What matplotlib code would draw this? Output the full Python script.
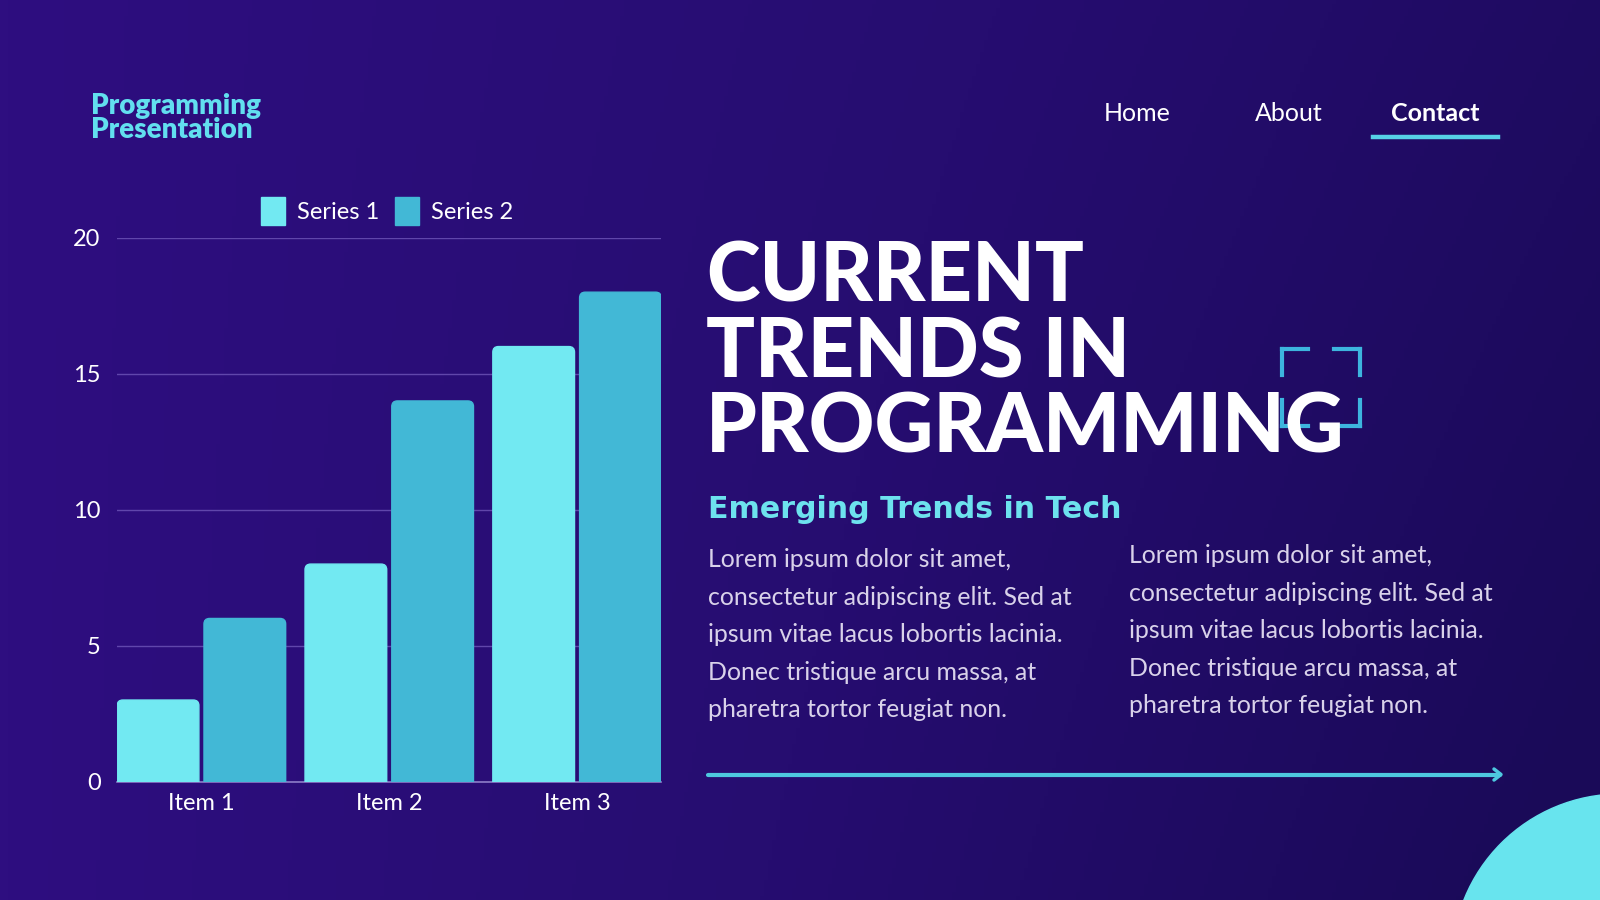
import numpy as np
import matplotlib
matplotlib.use("Agg")
from matplotlib import pyplot as plt
from matplotlib.patches import FancyBboxPatch, Circle, Patch
from matplotlib.colors import LinearSegmentedColormap

# chart data
categories = ["Item 1", "Item 2", "Item 3"]
series_names = ["Series 1", "Series 2"]
series1 = [3, 8, 16]
series2 = [6, 14, 18]
y_ticks = [0, 5, 10, 15, 20]

# slide text
brand_lines = ["Programming", "Presentation"]
nav_items = ["Home", "About", "Contact"]
title_lines = ["CURRENT", "TRENDS IN", "PROGRAMMING"]
subtitle = "Emerging Trends in Tech"
body_lines = ["Lorem ipsum dolor sit amet,",
              "consectetur adipiscing elit. Sed at",
              "ipsum vitae lacus lobortis lacinia.",
              "Donec tristique arcu massa, at",
              "pharetra tortor feugiat non."]

W, H = 1600, 900
fig = plt.figure(figsize=(16, 9), dpi=100)


def fx(px):
    return px / W


def fy(py):
    return 1 - py / H


# background gradient
bg = fig.add_axes([0, 0, 1, 1])
bg.set_axis_off()
cmap = LinearSegmentedColormap.from_list("bg", ["#2E0E80", "#260D70", "#1A0A58"])
gx = np.linspace(0, 1, 400)
gy = np.linspace(0, 1, 225)
gxx, gyy = np.meshgrid(gx, gy)
grad = 0.8 * gxx + 0.25 * gyy * gxx
bg.imshow(grad, cmap=cmap, aspect="auto", extent=[0, W, H, 0], vmin=0, vmax=1)
bg.set_xlim(0, W)
bg.set_ylim(H, 0)

# decorative circle bottom-right
bg.add_patch(Circle((1620, 962), 168, color="#68E4EE", zorder=3))

# bracket decoration
br_col = "#3DB5DE"
for (x1, x2, y1, y2) in [(1282, 1308, 349, 349), (1282, 1282, 349, 375),
                         (1334, 1360, 349, 349), (1360, 1360, 349, 375),
                         (1282, 1282, 400, 426), (1282, 1308, 426, 426),
                         (1360, 1360, 400, 426), (1334, 1360, 426, 426)]:
    bg.plot([x1, x2], [y1, y2], color=br_col, lw=3, solid_capstyle="projecting", zorder=2)

# arrow line
bg.plot([708, 1500], [774.5, 774.5], color="#4EC8DF", lw=3, zorder=2,
        solid_capstyle="round")
bg.plot([1494, 1501, 1494], [769, 774.5, 780], color="#4EC8DF", lw=2.5, zorder=2,
        solid_capstyle="round")

# Contact underline
bg.plot([1373, 1498], [137, 137], color="#56D2E6", lw=3.2, zorder=2)

# texts
body_font = "Lato"
for i, line in enumerate(brand_lines):
    fig.text(fx(91), fy(114 + i * 23.5), line, fontsize=20, family=body_font,
             weight="heavy", color="#62DFEF", va="baseline", ha="left")

nav_x = [1137, 1289, 1435]
for x, name in zip(nav_x, nav_items):
    fig.text(fx(x), fy(121), name, fontsize=18, family=body_font,
             weight="bold" if name == "Contact" else "normal",
             color="white", va="baseline", ha="center")

for i, line in enumerate(title_lines):
    fig.text(fx(706), fy(302 + i * 75.5), line, fontsize=58.5, family=body_font,
             weight="black", color="white", va="baseline", ha="left", zorder=5)

fig.text(fx(708), fy(518), subtitle, fontsize=21.6, family="DejaVu Sans", weight="bold",
         color="#6DE2EE", va="baseline", ha="left")

for col_x, col_y in [(708, 567), (1129, 563)]:
    for i, line in enumerate(body_lines):
        fig.text(fx(col_x), fy(col_y + i * 37.6), line, fontsize=17.9, family=body_font,
                 weight="normal", color="#D9D2EA", va="baseline", ha="left")

# bar chart
ax = fig.add_axes([fx(117.3), fy(781.6), fx(661.2 - 117.3), (781.6 - 237.8) / H])
ax.patch.set_alpha(0)
x = np.arange(len(categories))
w = 0.435
off = 0.231
colors = ["#72E9F2", "#42B8D6"]
bars1 = ax.bar(x - off, series1, w, color=colors[0], zorder=3)
bars2 = ax.bar(x + off, series2, w, color=colors[1], zorder=3)
ax.set_xlim(-0.448, 2.448)
ax.set_ylim(0, 20)

# rounded tops
aspect = ((661.2 - 117.3) / 2.896) / ((781.6 - 237.8) / 20)
for bars, c in [(bars1, colors[0]), (bars2, colors[1])]:
    for r in bars:
        r.set_visible(False)
        p = FancyBboxPatch((r.get_x(), -1), r.get_width(), r.get_height() + 1,
                           boxstyle="round,pad=0,rounding_size=0.03",
                           mutation_aspect=aspect, color=c, zorder=3)
        ax.add_patch(p)

ax.set_yticks(y_ticks)
ax.set_xticks(x)
ax.set_xticklabels(categories)
ax.tick_params(axis="both", length=0, labelsize=17, labelcolor="white")
ax.tick_params(axis="y", pad=12)
ax.tick_params(axis="x", pad=8)
for lab in ax.get_xticklabels() + ax.get_yticklabels():
    lab.set_family(body_font)
ax.grid(axis="y", color="#6E55B8", lw=1, alpha=0.8, zorder=1)
for s in ["top", "right", "left"]:
    ax.spines[s].set_visible(False)
ax.spines["bottom"].set_color("#8C7CC8")
ax.spines["bottom"].set_linewidth(1.2)

handles = [Patch(color=c, label=n) for c, n in zip(colors, series_names)]
leg = ax.legend(handles=handles, loc="center", bbox_to_anchor=(fx(387), fy(211)),
                bbox_transform=fig.transFigure, ncol=2, frameon=False,
                handlelength=1.0, handleheight=1.4, handletextpad=0.5,
                columnspacing=0.7, prop={"family": body_font, "size": 17})
for t in leg.get_texts():
    t.set_color("white")

fig.savefig("out.png", dpi=100)
